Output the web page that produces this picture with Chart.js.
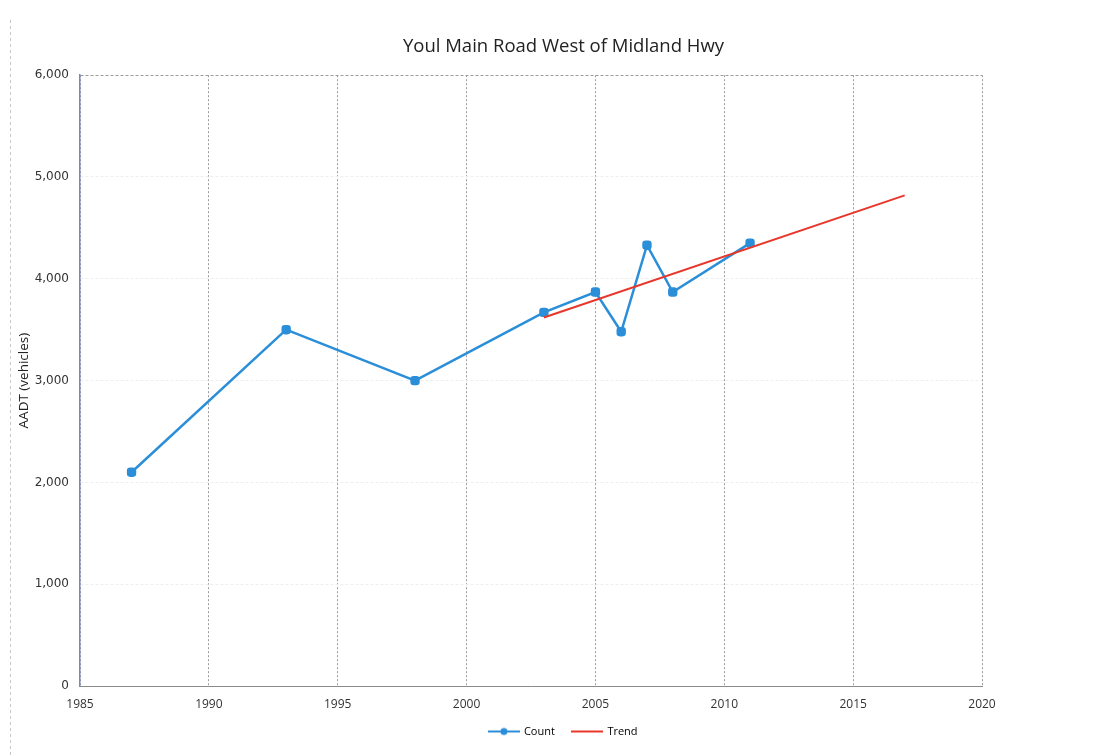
<!DOCTYPE html>
<html>
<head>
<meta charset="utf-8">
<script src="https://cdn.jsdelivr.net/npm/chart.js@4.4.1/dist/chart.umd.min.js"></script>
<style>
  html, body { margin: 0; padding: 0; background: #ffffff; }
  #wrap { position: relative; width: 1117px; height: 756px; }
  canvas { display: block; }
</style>
</head>
<body>
<div id="wrap"><canvas id="c" width="1117" height="756"></canvas></div>
<script>
// Traffic counts (AADT) on Youl Main Road west of Midland Hwy
const countYears  = [1987, 1993, 1998, 2003, 2005, 2006, 2007, 2008, 2011];
const countValues = [2100, 3500, 3000, 3670, 3870, 3480, 4330, 3870, 4350];

// Linear trend line endpoints
const trendYears  = [2003, 2017];
const trendValues = [3620, 4820];

// Axis ranges and tick steps
const xTicks = [1985, 1990, 1995, 2000, 2005, 2010, 2015, 2020];
const yTicks = [0, 1000, 2000, 3000, 4000, 5000, 6000];

const COUNT_COLOR = '#2b8ed8';
const TREND_COLOR = '#e8362b';
const FONT = '"Open Sans", Lato, sans-serif';

// Legend icons: a short line, with a marker in the middle for the count series
function legendIcon(color, withMarker) {
  const cv = document.createElement('canvas');
  cv.width = 32; cv.height = 10;
  const g = cv.getContext('2d');
  g.strokeStyle = color;
  g.lineWidth = 2;
  g.beginPath(); g.moveTo(0, 5); g.lineTo(32, 5); g.stroke();
  if (withMarker) {
    g.fillStyle = color;
    g.beginPath(); g.arc(16, 5, 3.5, 0, Math.PI * 2); g.fill();
  }
  return cv;
}
const countIcon = legendIcon(COUNT_COLOR, true);
const trendIcon = legendIcon(TREND_COLOR, false);

// Faint dashed frame edge on the left of the chart object
const framePlugin = {
  id: 'frame',
  beforeDraw(chart) {
    const ctx = chart.ctx;
    ctx.save();
    ctx.strokeStyle = '#c8c8c8';
    ctx.lineWidth = 1;
    ctx.setLineDash([3, 3]);
    ctx.beginPath();
    ctx.moveTo(10.5, 20); ctx.lineTo(10.5, 756);
    ctx.stroke();
    ctx.restore();
  }
};

new Chart(document.getElementById('c'), {
  type: 'line',
  data: {
    datasets: [
      {
        label: 'Count',
        data: countYears.map((x, i) => ({ x, y: countValues[i] })),
        borderColor: COUNT_COLOR,
        backgroundColor: COUNT_COLOR,
        borderWidth: 2.5,
        pointStyle: 'rectRounded',
        pointRadius: 4,
        pointHoverRadius: 4,
        tension: 0,
        order: 2
      },
      {
        label: 'Trend',
        data: trendYears.map((x, i) => ({ x, y: trendValues[i] })),
        borderColor: TREND_COLOR,
        backgroundColor: TREND_COLOR,
        borderWidth: 2,
        pointRadius: 0,
        pointHoverRadius: 0,
        tension: 0,
        order: 1
      }
    ]
  },
  options: {
    responsive: false,
    animation: false,
    events: [],
    layout: { padding: { top: 36, left: 10, right: 0, bottom: 9 } },
    scales: {
      x: {
        type: 'linear',
        min: xTicks[0],
        max: xTicks[xTicks.length - 1],
        afterBuildTicks(scale) { scale.ticks = xTicks.map(v => ({ value: v })); },
        afterFit(scale) { scale.height = 22; },
        ticks: {
          padding: 11,
          color: '#333333',
          font: { family: FONT, size: 12 },
          callback: v => String(v),
          maxRotation: 0
        },
        grid: {
          drawTicks: false,
          color: '#9c9c9c',
          lineWidth: 1
        },
        border: { display: true, color: '#8a8a8a', width: 1, dash: [2, 2] }
      },
      y: {
        type: 'linear',
        position: 'left',
        min: yTicks[0],
        max: yTicks[yTicks.length - 1],
        afterBuildTicks(scale) { scale.ticks = yTicks.map(v => ({ value: v })); },
        afterFit(scale) { scale.width = 70; },
        title: {
          display: true,
          text: 'AADT (vehicles)',
          color: '#222222',
          font: { family: FONT, size: 13.5 },
          padding: { top: 6, bottom: 0 }
        },
        ticks: {
          padding: 11,
          color: '#333333',
          font: { family: '"DejaVu Sans", Verdana, sans-serif', size: 12 },
          callback: v => v.toLocaleString('en-US')
        },
        grid: {
          drawTicks: false,
          color: ctx => (ctx.tick && ctx.tick.value === 6000) ? '#9c9c9c' : '#eeeeee',
          lineWidth: 1
        },
        border: { display: true, color: '#7d83c6', width: 1.5, dash: [3, 2] }
      },
      // empty band on the right of the plot area
      yRight: {
        type: 'linear',
        position: 'right',
        display: true,
        min: 0,
        max: 1,
        afterFit(scale) { scale.width = 135; },
        ticks: { display: false },
        grid: { display: false },
        border: { display: false }
      }
    },
    plugins: {
      title: {
        display: true,
        text: 'Youl Main Road West of Midland Hwy',
        color: '#222222',
        font: { family: FONT, size: 18.5, weight: 'normal' },
        padding: { top: 0, bottom: 17 }
      },
      legend: {
        display: true,
        position: 'bottom',
        labels: {
          usePointStyle: true,
          pointStyleWidth: 29,
          boxHeight: 10,
          padding: 18,
          color: '#222222',
          font: { family: FONT, size: 11 },
          generateLabels() {
            return [
              { text: 'Count', pointStyle: countIcon, fillStyle: COUNT_COLOR, strokeStyle: COUNT_COLOR, lineWidth: 0, datasetIndex: 0, hidden: false },
              { text: 'Trend', pointStyle: trendIcon, fillStyle: TREND_COLOR, strokeStyle: TREND_COLOR, lineWidth: 0, datasetIndex: 1, hidden: false }
            ];
          }
        }
      },
      tooltip: { enabled: false }
    }
  },
  plugins: [framePlugin]
});
</script>
</body>
</html>
